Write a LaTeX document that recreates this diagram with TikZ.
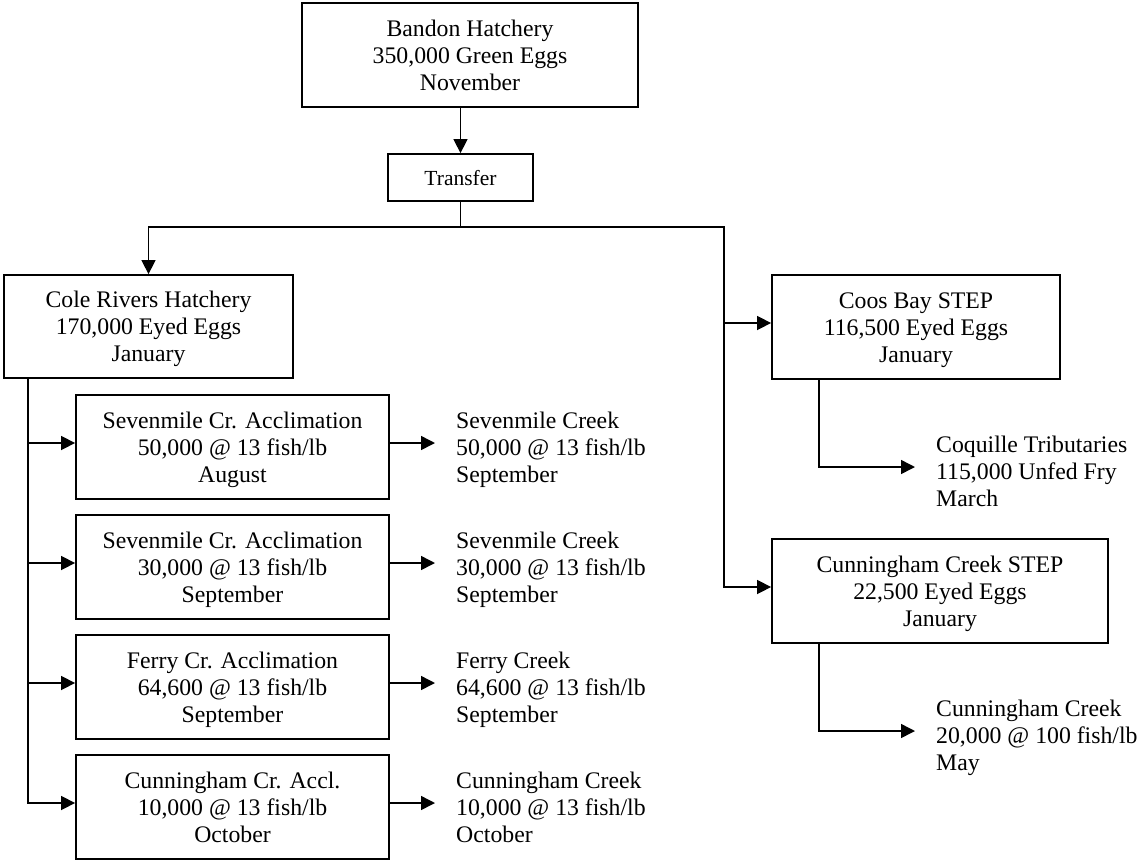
\documentclass[tikz,border=0pt]{standalone}
\usepackage{fontspec}
\setmainfont{Liberation Serif}
\usetikzlibrary{arrows.meta}
\begin{document}
\begin{tikzpicture}[x=1pt,y=-1pt,
  frame/.style={draw, line width=1.8pt, rectangle, inner sep=0pt, align=center},
  txt/.style={font=\fontsize{23.75}{27}\selectfont, execute at begin node={\rule{0pt}{78.5pt}}, execute at end node=\strut},
  box/.style={txt, frame},
  smallbox/.style={frame, font=\fontsize{21.5}{25}\selectfont, execute at begin node={\rule{0pt}{22.5pt}}, execute at end node=\strut},
  accl/.style={box, minimum width=313pt, minimum height=104pt},
  lbl/.style={txt, anchor=west, inner xsep=21pt, inner ysep=0pt, align=left},
  conn/.style={line width=1.5pt},
  arr/.style={conn, -{Triangle[length=14pt,width=14pt]}}]
\useasboundingbox (0,0) rectangle (1141,860);

\node[box, minimum width=336pt, minimum height=104pt] (bandon) at (470,55) {Bandon Hatchery\\350,000 Green Eggs\\November};
\node[smallbox, minimum width=145pt, minimum height=47pt] (transfer) at (460.5,177.5) {Transfer};
\node[box, minimum width=289pt, minimum height=103pt] (cole) at (148.5,326.5) {Cole Rivers Hatchery\\170,000 Eyed Eggs\\January};

\node[accl] (a1) at (232.5,447) {Sevenmile Cr. Acclimation\\50,000 @ 13 fish/lb\\August};
\node[accl] (a2) at (232.5,567) {Sevenmile Cr. Acclimation\\30,000 @ 13 fish/lb\\September};
\node[accl] (a3) at (232.5,687) {Ferry Cr. Acclimation\\64,600 @ 13 fish/lb\\September};
\node[accl] (a4) at (232.5,807) {Cunningham Cr. Accl.\\10,000 @ 13 fish/lb\\October};

\node[lbl] (t1) at (435,447) {Sevenmile Creek\\50,000 @ 13 fish/lb\\September};
\node[lbl] (t2) at (435,567) {Sevenmile Creek\\30,000 @ 13 fish/lb\\September};
\node[lbl] (t3) at (435,687) {Ferry Creek\\64,600 @ 13 fish/lb\\September};
\node[lbl] (t4) at (435,807) {Cunningham Creek\\10,000 @ 13 fish/lb\\October};

\node[box, minimum width=288pt, minimum height=104pt] (coos) at (916,327) {Coos Bay STEP\\116,500 Eyed Eggs\\January};
\node[box, minimum width=336pt, minimum height=104pt] (cstep) at (940,591) {Cunningham Creek STEP\\22,500 Eyed Eggs\\January};

\node[lbl] (coq) at (915,471) {Coquille Tributaries\\115,000 Unfed Fry\\March};
\node[lbl] (cck) at (915,735) {Cunningham Creek\\20,000 @ 100 fish/lb\\May};

\coordinate (sp) at (460.5,227);
\coordinate (rt) at (724,227);
\coordinate (tr) at ([xshift=25pt]cole.south west);

\draw[arr] (transfer.north |- bandon.south) -- (transfer.north);
\draw[conn] (transfer.south) -- (sp);
\draw[arr] (sp) -| (cole.north);
\draw[arr] (sp) -- (rt) |- ([yshift=4pt]coos.west);
\draw[arr] (rt) |- ([yshift=4pt]cstep.west);

\foreach \i in {1,...,4} {
  \draw[arr] (tr) |- ([yshift=4pt]a\i.west);
  \draw[arr] ([yshift=4pt]a\i.east) -- ([yshift=4pt]t\i.west);
}

\draw[arr] ([xshift=48pt]coos.south west) |- ([yshift=4pt]coq.west);
\draw[arr] ([xshift=48pt]cstep.south west) |- ([yshift=4pt]cck.west);
\end{tikzpicture}
\end{document}
